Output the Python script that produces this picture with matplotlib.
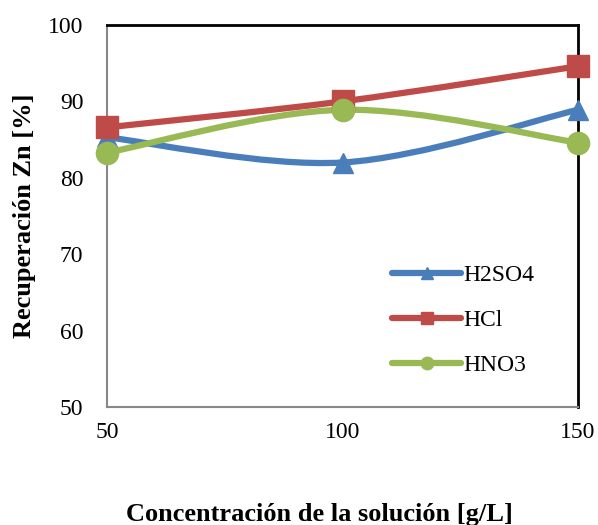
import matplotlib
matplotlib.use("Agg")
import matplotlib.pyplot as plt
from matplotlib.path import Path
from matplotlib.patches import PathPatch
from matplotlib.lines import Line2D

# Data
concentracion = [50, 100, 150]
h2so4 = [85.3, 82.0, 88.9]
hcl = [86.6, 90.0, 94.6]
hno3 = [83.3, 88.9, 84.6]

plt.rcParams['font.family'] = ['Liberation Serif', 'DejaVu Serif']


def smooth_path(x, y):
    # Excel-style smoothed line: cubic bezier segments through each point
    pts = list(zip(x, y))
    verts = [pts[0]]
    codes = [Path.MOVETO]
    n = len(pts)
    for i in range(n - 1):
        p0 = pts[i - 1] if i > 0 else pts[i]
        p1 = pts[i]
        p2 = pts[i + 1]
        p3 = pts[i + 2] if i + 2 < n else pts[i + 1]
        c1 = (p1[0] + (p2[0] - p0[0]) / 6, p1[1] + (p2[1] - p0[1]) / 6)
        c2 = (p2[0] - (p3[0] - p1[0]) / 6, p2[1] - (p3[1] - p1[1]) / 6)
        verts += [c1, c2, p2]
        codes += [Path.CURVE4] * 3
    return Path(verts, codes)


fig = plt.figure(figsize=(5.98, 5.25), dpi=100)
ax = fig.add_axes([0.179, 0.2248, 0.7876, 0.7276])

series = [
    ("H2SO4", h2so4, '#4A7EBB', '^', 15),
    ("HCl", hcl, '#BE4B48', 's', 16),
    ("HNO3", hno3, '#98B954', 'o', 16),
]

handles = []
for name, vals, color, mk, ms in series:
    ax.add_patch(PathPatch(smooth_path(concentracion, vals), facecolor='none',
                           edgecolor=color, lw=4.5, capstyle='round', zorder=3,
                           clip_on=False))
    ax.plot(concentracion, vals, linestyle='none', marker=mk, markersize=ms,
            color=color, zorder=4, clip_on=False)
    handles.append(Line2D([0], [0], color=color, lw=4.5, marker=mk,
                          markersize=9, solid_capstyle='round', label=name))

ax.set_xlim(50, 150)
ax.set_ylim(50, 100)
ax.set_xticks([50, 100, 150])
ax.set_yticks([50, 60, 70, 80, 90, 100])
ax.tick_params(length=0, labelsize=17, colors='black')
ax.tick_params(axis='y', pad=17)
ax.tick_params(axis='x', pad=11)

for side in ['left', 'bottom']:
    ax.spines[side].set_color('#888888')
    ax.spines[side].set_linewidth(1.5)
for side in ['right', 'top']:
    ax.spines[side].set_color('black')
    ax.spines[side].set_linewidth(2.0)

ax.set_xlabel("Concentración de la solución [g/L]", fontsize=19,
              fontweight='bold')
ax.xaxis.set_label_coords(0.452, -0.252)
ax.set_ylabel("Recuperación Zn [%]", fontsize=19, fontweight='bold',
              labelpad=9)

ax.legend(handles=handles, loc='upper left', bbox_to_anchor=(0.586, 0.398),
          frameon=False, fontsize=17, handlelength=2.9, handletextpad=0.1,
          labelspacing=1.0, borderaxespad=0)

fig.savefig("out.png", dpi=100)
